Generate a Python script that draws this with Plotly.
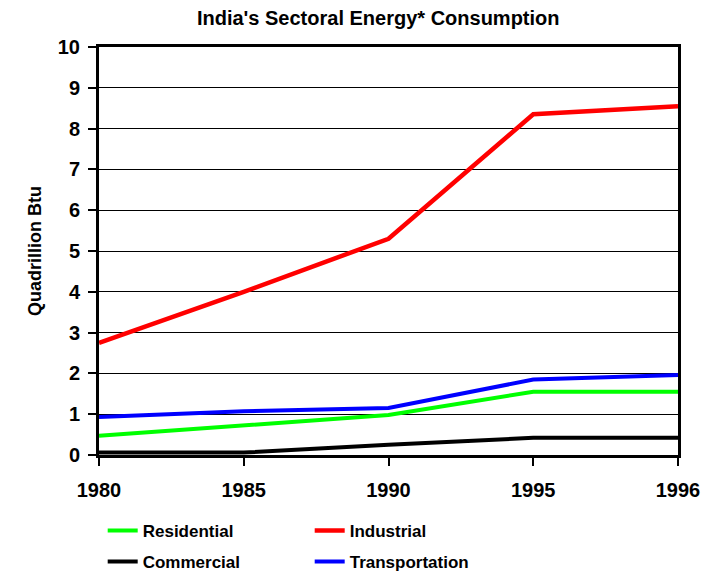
import plotly.graph_objects as go

# India's sectoral energy consumption (quadrillion Btu)
years = ["1980", "1985", "1990", "1995", "1996"]
residential = [0.47, 0.72, 0.98, 1.55, 1.55]
industrial = [2.75, 4.0, 5.3, 8.35, 8.55]
commercial = [0.06, 0.06, 0.25, 0.42, 0.42]
transportation = [0.93, 1.07, 1.15, 1.85, 1.96]

FONT = "Liberation Sans, Arial, sans-serif"

# legend rows: row 1 -> legend, row 2 -> legend2
series = [
    ("Residential", residential, "#00ff00", "legend", 4),
    ("Industrial", industrial, "#ff0000", "legend", 4.5),
    ("Commercial", commercial, "#000000", "legend2", 4),
    ("Transportation", transportation, "#0000ff", "legend2", 4),
]

fig = go.Figure()
for name, vals, color, leg, w in series:
    fig.add_trace(go.Scatter(
        x=years, y=vals, name=name, mode="lines",
        line=dict(color=color, width=w),
        legend=leg,
    ))

legend_style = dict(
    orientation="h",
    xref="container", yref="container",
    xanchor="left", yanchor="middle",
    x=0.133, entrywidth=162, entrywidthmode="pixels",
    itemwidth=30,
    font=dict(family=FONT, size=17, color="black", weight="bold"),
    bgcolor="rgba(0,0,0,0)",
)

fig.update_layout(
    width=712, height=574,
    margin=dict(l=91, r=42, t=39, b=127),
    paper_bgcolor="white", plot_bgcolor="white",
    font=dict(family=FONT, color="black"),
    title=dict(
        text="<b>India's Sectoral Energy* Consumption</b>",
        font=dict(family=FONT, size=20, color="black"),
        x=0.52, xanchor="center", y=0.983, yanchor="middle",
    ),
    showlegend=True,
    legend=dict(legend_style, y=0.0889),
    legend2=dict(legend_style, y=0.0348),
)

fig.update_xaxes(
    type="category", range=[0, 4], automargin=False,
    showline=True, linecolor="black", linewidth=3, mirror=True,
    ticks="outside", ticklen=8, tickwidth=1.5, tickcolor="black",
    ticklabelstandoff=7,
    showgrid=False, zeroline=False,
    tickfont=dict(family=FONT, size=20, color="black", weight="bold"),
)
fig.update_yaxes(
    range=[0, 10], dtick=1, automargin=False,
    showline=True, linecolor="black", linewidth=3, mirror=True,
    ticks="outside", ticklen=8, tickwidth=1.5, tickcolor="black",
    ticklabelstandoff=4,
    showgrid=True, gridcolor="black", gridwidth=1.2, zeroline=False,
    tickfont=dict(family=FONT, size=20, color="black", weight="bold"),
    title=dict(text="<b>Quadrillion Btu</b>",
               font=dict(family=FONT, size=18, color="black"), standoff=12),
)

fig.write_html("out.html")
